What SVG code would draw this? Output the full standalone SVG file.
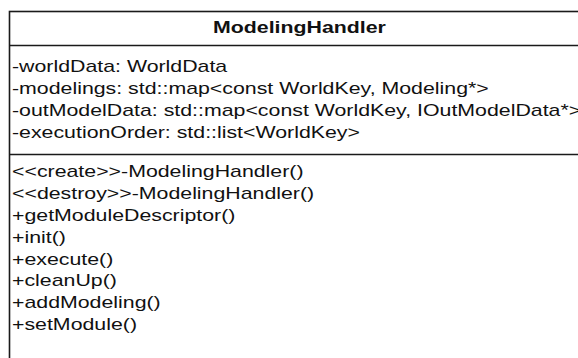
<svg xmlns="http://www.w3.org/2000/svg" width="578" height="358" viewBox="0 0 578 358">
  <style>
    .frame { fill: #ffffff; stroke: #1a1a1a; stroke-width: 1.6; }
    .sep { stroke: #1a1a1a; stroke-width: 1.6; }
    .txt { font-family: "Liberation Sans", Arial, Helvetica, sans-serif; font-size: 16px; fill: #111111; }
    .name { font-weight: bold; text-anchor: middle; }
  </style>
  <rect x="0" y="0" width="578" height="358" fill="#ffffff"/>

  <!-- class box: name / attributes / operations -->
  <g id="ModelingHandler">
    <rect class="frame" x="9.5" y="11.5" width="600" height="400"/>
    <line class="sep" x1="9.5" y1="45.5" x2="610" y2="45.5"/>
    <line class="sep" x1="9.5" y1="154.5" x2="610" y2="154.5"/>

    <!-- labels are drawn with a wide horizontal scale -->
    <g transform="scale(1.3333,1)">
      <text class="txt name" x="224.6" y="33.5">ModelingHandler</text>

      <text class="txt" x="9" y="72.5">-worldData: WorldData</text>
      <text class="txt" x="9" y="94.4">-modelings: std::map&lt;const WorldKey, Modeling*&gt;</text>
      <text class="txt" x="9" y="116.3">-outModelData: std::map&lt;const WorldKey, IOutModelData*&gt;</text>
      <text class="txt" x="9" y="138.2">-executionOrder: std::list&lt;WorldKey&gt;</text>

      <text class="txt" x="9" y="177">&lt;&lt;create&gt;&gt;-ModelingHandler()</text>
      <text class="txt" x="9" y="198.9">&lt;&lt;destroy&gt;&gt;-ModelingHandler()</text>
      <text class="txt" x="9" y="220.8">+getModuleDescriptor()</text>
      <text class="txt" x="9" y="242.7">+init()</text>
      <text class="txt" x="9" y="264.6">+execute()</text>
      <text class="txt" x="9" y="286.5">+cleanUp()</text>
      <text class="txt" x="9" y="308.4">+addModeling()</text>
      <text class="txt" x="9" y="330.3">+setModule()</text>
    </g>
  </g>

  <g id="connectors"/>
</svg>
